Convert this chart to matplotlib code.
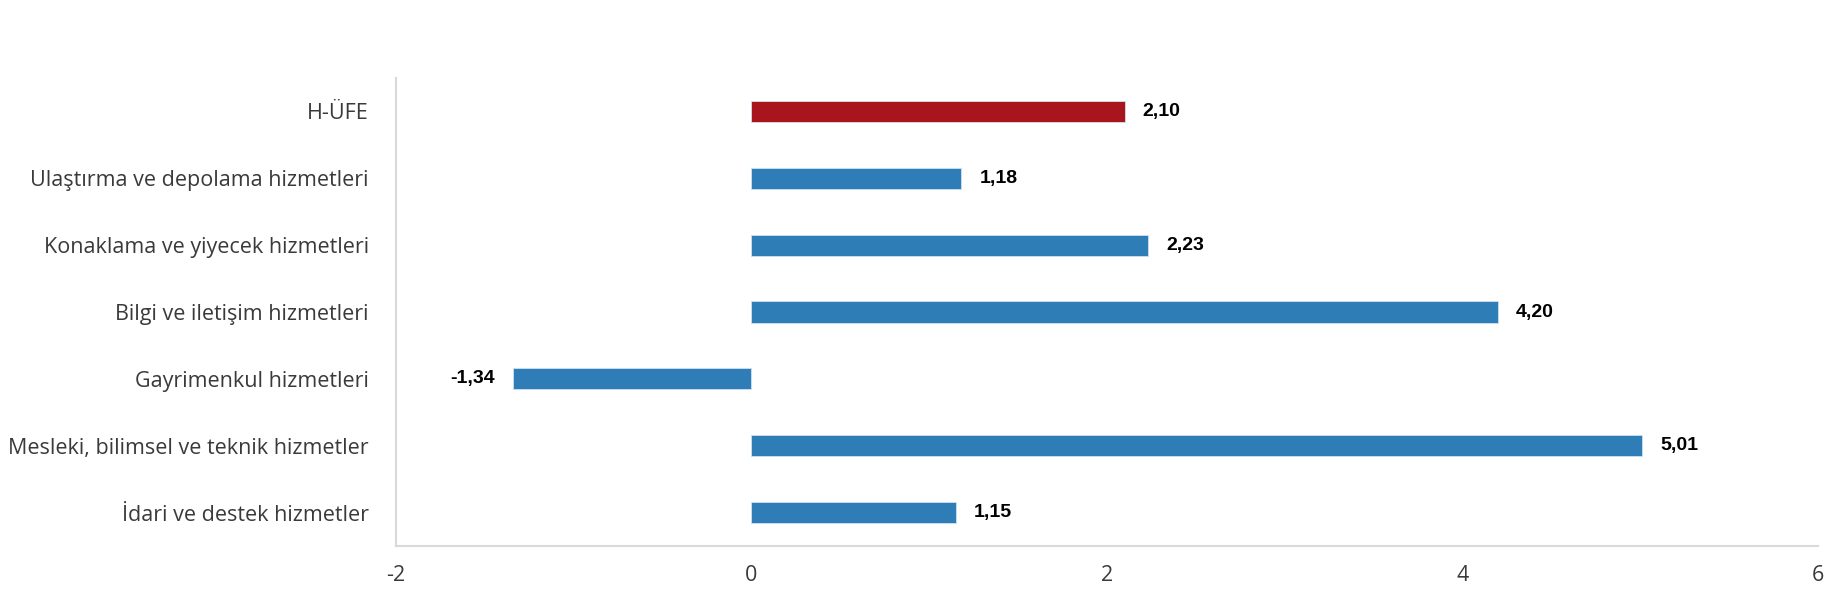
import matplotlib
matplotlib.use("Agg")
import matplotlib.pyplot as plt

categories = [
    "H-ÜFE",
    "Ulaştırma ve depolama hizmetleri",
    "Konaklama ve yiyecek hizmetleri",
    "Bilgi ve iletişim hizmetleri",
    "Gayrimenkul hizmetleri",
    "Mesleki, bilimsel ve teknik hizmetler",
    "İdari ve destek hizmetler",
]
values = [2.10, 1.18, 2.23, 4.20, -1.34, 5.01, 1.15]
colors = ["#A8151C", "#2F7DB7", "#2F7DB7", "#2F7DB7", "#2F7DB7", "#2F7DB7", "#2F7DB7"]
xticks = [-2, 0, 2, 4, 6]

fig = plt.figure(figsize=(18.3, 6), dpi=100)
ax = fig.add_axes([0.2164, 0.09, 0.777, 0.78])

ypos = list(range(len(categories)))
ax.barh(ypos, values, height=0.315, color=colors, edgecolor="#CFE0EE", linewidth=0.6)
ax.set_ylim(len(categories) - 0.5, -0.5)
ax.set_xlim(-2, 6)
ax.set_xticks(xticks)
ax.set_xticklabels([str(t) for t in xticks])
ax.set_yticks(ypos)
ax.set_yticklabels(categories)

for sp in ["top", "right"]:
    ax.spines[sp].set_visible(False)
for sp in ["left", "bottom"]:
    ax.spines[sp].set_color("#D9D9D9")
    ax.spines[sp].set_linewidth(1.5)

ax.tick_params(axis="both", length=0)
ax.tick_params(axis="y", pad=19.5)
ax.tick_params(axis="x", pad=14)
for lab in ax.get_yticklabels() + ax.get_xticklabels():
    lab.set_fontfamily("Open Sans")
    lab.set_fontsize(15.5)
    lab.set_color("#3A3A3A")

for y, v in zip(ypos, values):
    txt = f"{v:.2f}".replace(".", ",")
    if v >= 0:
        ax.annotate(txt, (v, y), xytext=(13, 0), textcoords="offset points",
                    ha="left", va="center", fontsize=14, fontweight="bold",
                    fontfamily="Liberation Sans", color="black")
    else:
        ax.annotate(txt, (v, y), xytext=(-13, 0), textcoords="offset points",
                    ha="right", va="center", fontsize=14, fontweight="bold",
                    fontfamily="Liberation Sans", color="black")

fig.savefig("out.png", dpi=100, facecolor="white")
